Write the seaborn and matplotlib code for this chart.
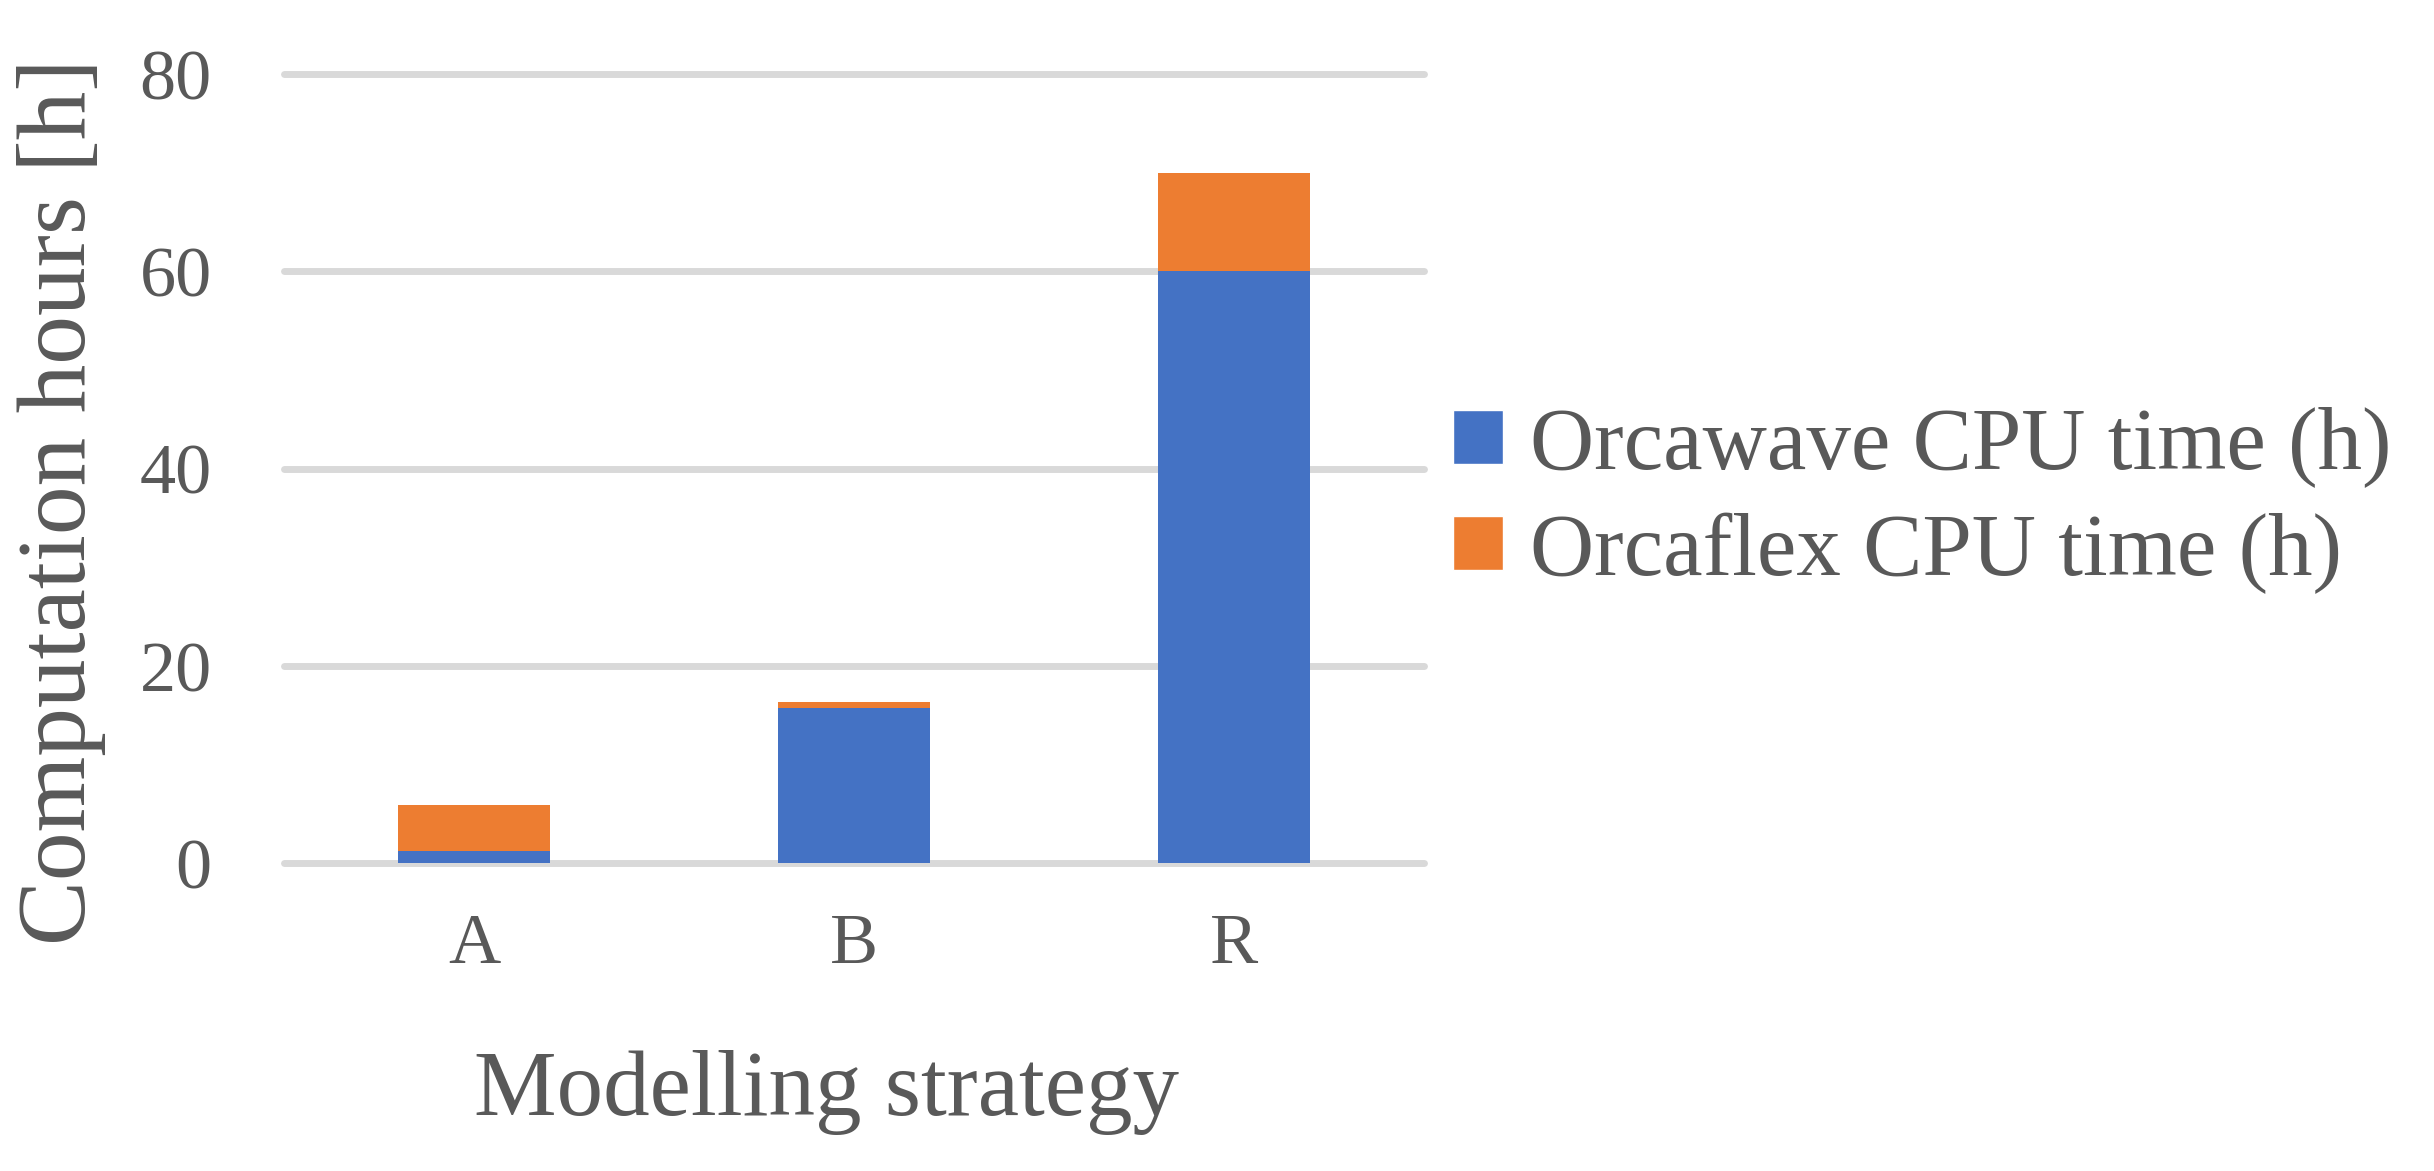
import matplotlib
matplotlib.use("Agg")
import matplotlib.pyplot as plt
from matplotlib.patches import Patch
import pandas as pd
import seaborn as sns

# Chart data
strategies = ["A", "B", "R"]
orcawave_hours = [1.3, 15.8, 60.0]
orcaflex_hours = [4.6, 0.6, 10.0]
series_names = ["Orcawave CPU time (h)", "Orcaflex CPU time (h)"]
y_ticks = [0, 20, 40, 60, 80]

BLUE = "#4472C4"
ORANGE = "#ED7D31"
GREY_TEXT = "#595959"
GRID = "#D9D9D9"


def main() -> None:
    """Draw the stacked bar chart"""
    df = pd.DataFrame({
        "strategy": strategies,
        "orcawave": orcawave_hours,
        "orcaflex": orcaflex_hours,
    })
    df["total"] = df["orcawave"] + df["orcaflex"]

    sns.set_theme(style="white")
    plt.rcParams["font.family"] = ["Liberation Serif", "DejaVu Serif"]

    fig = plt.figure(figsize=(24.34, 11.71), dpi=100)
    ax = fig.add_axes([0.1167, 0.2626, 0.4684, 0.6742])

    # Stacked bars: total in orange, then the blue part over it
    sns.barplot(data=df, x="strategy", y="total", color=ORANGE, width=0.4,
                saturation=1, linewidth=0, ax=ax, zorder=3)
    sns.barplot(data=df, x="strategy", y="orcawave", color=BLUE, width=0.4,
                saturation=1, linewidth=0, ax=ax, zorder=4)

    ax.set_xlim(-0.5, 2.5)
    ax.set_ylim(0, 80)
    ax.set_yticks(y_ticks)
    ax.yaxis.grid(True, color=GRID, linewidth=5, zorder=0)
    ax.set_axisbelow(True)
    for line in ax.get_ygridlines():
        line.set_clip_on(False)
    for spine in ax.spines.values():
        spine.set_visible(False)

    ax.tick_params(axis="both", length=0, labelsize=52, colors=GREY_TEXT)
    ax.tick_params(axis="y", pad=52)
    ax.tick_params(axis="x", pad=36)
    ax.set_xlabel("Modelling strategy", fontsize=67, color=GREY_TEXT)
    ax.set_ylabel("Computation hours [h]", fontsize=70, color=GREY_TEXT)
    ax.xaxis.set_label_coords(0.476, -0.236)
    ax.yaxis.set_label_coords(-0.156, 0.458)

    handles = [Patch(facecolor=BLUE), Patch(facecolor=ORANGE)]
    ax.legend(handles, series_names, loc="center left",
              bbox_to_anchor=(0.597, 0.573), bbox_transform=fig.transFigure,
              frameon=False, fontsize=64, labelcolor=GREY_TEXT,
              handlelength=0.56, handleheight=0.56, handletextpad=0.3,
              labelspacing=0.28, borderpad=0, borderaxespad=0)

    fig.savefig("out.png", dpi=100)


if __name__ == "__main__":
    main()
